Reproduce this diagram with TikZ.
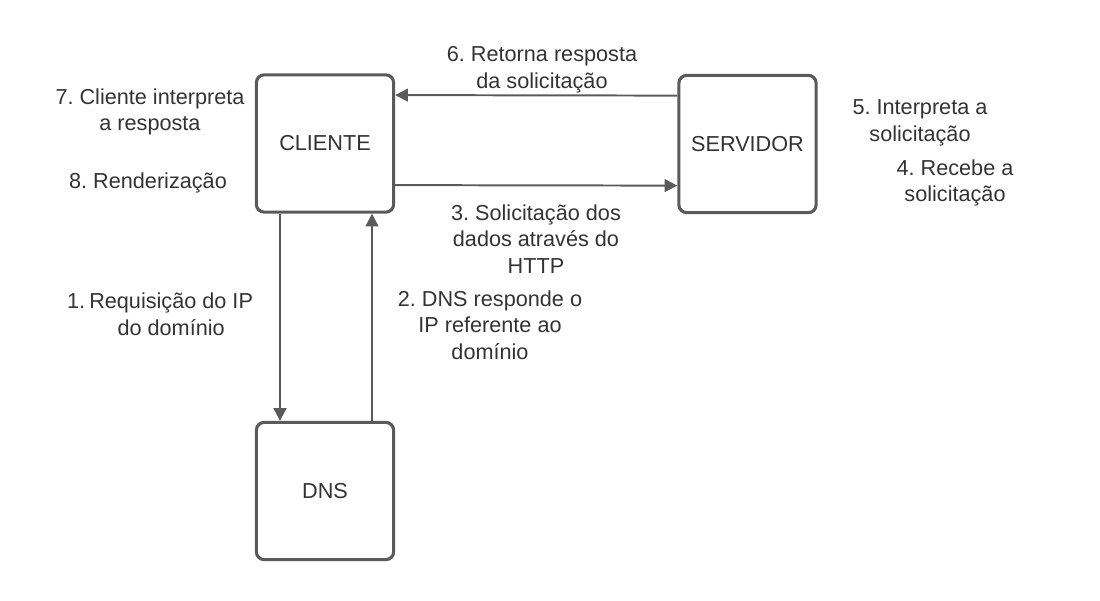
\documentclass[tikz,border=0pt]{standalone}
\usepackage{fontspec}
\setmainfont{Liberation Sans}
\usepackage{tikz}
\usepackage{xcolor}
\usetikzlibrary{arrows.meta}
\definecolor{linegray}{HTML}{5A5A5A}
\definecolor{textgray}{HTML}{333333}
\frenchspacing

\begin{document}
\begin{tikzpicture}[x=0.025cm, y=-0.025cm,
  box/.style={draw=linegray, line width=2.2pt, rounded corners=5.5pt, fill=white,
    minimum width=3.43cm, minimum height=3.43cm, text=textgray,
    font=\fontsize{15.4}{19}\selectfont},
  lbl/.style={text=textgray, align=center, inner sep=0pt,
    font=\fontsize{15.4}{19}\selectfont},
  flow/.style={draw=linegray, line width=1.4pt, -{Triangle[length=9pt, width=9pt]}}]
\useasboundingbox (0,0) rectangle (1100,600);

\node (cli) at (325,143.5) [box]{CLIENTE};
\node (serv) at (747.5,144) [box]{SERVIDOR};
\node (dns) at (325,491) [box]{DNS};

\draw[flow] ([yshift=1.21cm]serv.west) -- ([yshift=1.21cm]cli.east);
\draw[flow] ([yshift=-1.04cm]cli.east) -- ([yshift=-1.04cm]serv.west);
\draw[flow] ([xshift=-1.125cm]cli.south) -- ([xshift=-1.125cm]dns.north);
\draw[flow] ([xshift=1.175cm]dns.north) -- ([xshift=1.175cm]cli.south);

\node (l6) at (542,70) [lbl]{6. Retorna resposta\\da solicitação};
\node (l7) at (150,112) [lbl]{7. Cliente interpreta\\a resposta};
\node (l8) at (148,183) [lbl]{8. Renderização};
\node (l5) at (920,123) [lbl]{5. Interpreta a\\solicitação};
\node (l4) at (955,183) [lbl]{4. Recebe a\\solicitação};
\node (l3) at (536,239) [lbl]{3. Solicitação dos\\dados através do\\HTTP};
\node (l2) at (490,325) [lbl]{2. DNS responde o\\IP referente ao\\domínio};
\node (l1) at (160,317) [lbl]{\begin{tabular}{@{}l@{\hspace{3pt}}c@{}}1.&Requisição do IP\\&do domínio\end{tabular}};
\end{tikzpicture}
\end{document}
